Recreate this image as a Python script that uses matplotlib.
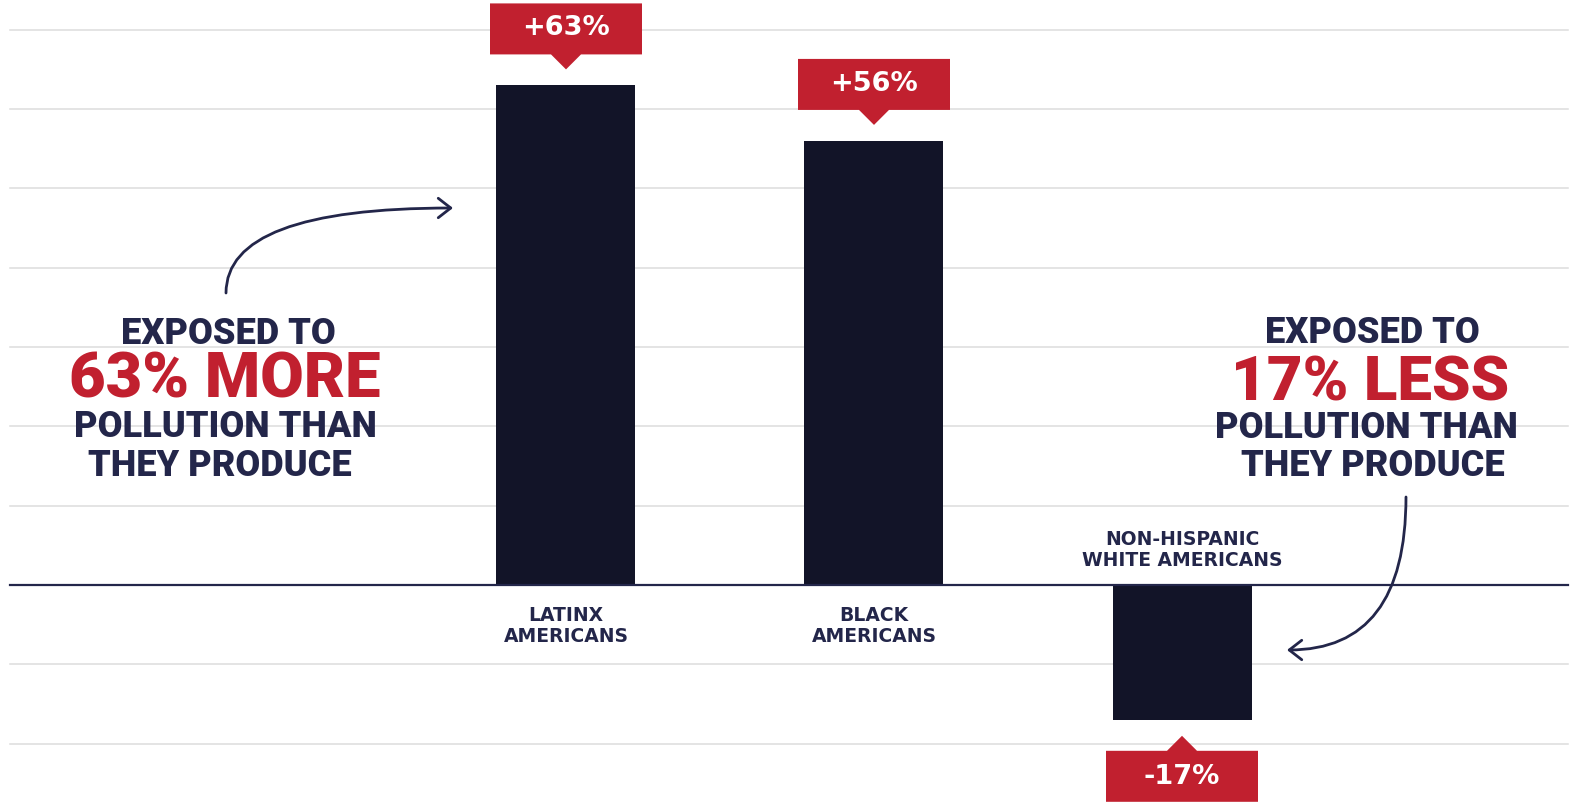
import matplotlib
matplotlib.use('Agg')
import matplotlib.pyplot as plt
from matplotlib.patches import Polygon, FancyArrowPatch
import matplotlib.transforms as mtransforms

categories = ["LATINX\nAMERICANS", "BLACK\nAMERICANS", "NON-HISPANIC\nWHITE AMERICANS"]
values = [63, 56, -17]
value_labels = ["+63%", "+56%", "-17%"]
grid_values = [-20, -10, 10, 20, 30, 40, 50, 60, 70]

NAVY = '#23264a'
BAR = '#121428'
RED = '#c1202f'
GRID = '#dcdcdc'

W, H = 1574, 805
ZERO, PX10, X0, DX = 585, 79.3, 566, 308
fig = plt.figure(figsize=(W / 100, H / 100), dpi=100)
ax = fig.add_axes([0, 0, 1, 1])
ax.set_xlim(-X0 / DX, (W - X0) / DX)
ax.set_ylim(-(H - ZERO) / PX10 * 10, ZERO / PX10 * 10)
ax.axis('off')

x0, x1 = 10 / W, 1568 / W
for g in grid_values:
    ax.axhline(g, xmin=x0, xmax=x1, color=GRID, lw=1.1, zorder=0)
ax.axhline(0, xmin=x0, xmax=x1, color=NAVY, lw=1.6, zorder=3)

xs = list(range(len(values)))
ax.bar(xs, values, width=139 / DX, color=BAR, zorder=2)

for i, (v, lab, cat) in enumerate(zip(values, value_labels, categories)):
    s = 1 if v > 0 else -1
    off = mtransforms.ScaledTranslation(i, v, ax.transData)
    tr = mtransforms.IdentityTransform() + off
    b0, b1, tip = 31 * s, 82 * s, 16 * s
    verts = [(-76, b0), (-15, b0), (0, tip), (15, b0), (76, b0), (76, b1), (-76, b1)]
    p = Polygon(verts, closed=True, facecolor=RED, edgecolor='none', zorder=4)
    p.set_transform(tr)
    ax.add_patch(p)
    ax.annotate(lab, xy=(i, v), xytext=(0, 57 * s), textcoords='offset pixels',
                ha='center', va='center', color='white', fontsize=19.5,
                fontweight='bold', family='DejaVu Sans', zorder=5)
    ax.annotate(cat, xy=(i, 0), xytext=(0, -41 if v > 0 else 35),
                textcoords='offset pixels', ha='center', va='center',
                color=NAVY, fontsize=13.5, fontweight='bold', family='DejaVu Sans',
                linespacing=1.15, zorder=5)


def ftext(x, y, s, color, size):
    fig.text(x / W, 1 - y / H, s, ha='center', va='baseline', color=color,
             fontsize=size, fontweight='heavy', family=['Roboto', 'DejaVu Sans'])


ftext(228, 344, "EXPOSED TO", NAVY, 26)
ftext(225, 397, "63% MORE", RED, 45.5)
ftext(225, 437, "POLLUTION THAN", NAVY, 26)
ftext(220, 476, "THEY PRODUCE", NAVY, 26)

ftext(1372, 343, "EXPOSED TO", NAVY, 26)
ftext(1370, 400, "17% LESS", RED, 44.5)
ftext(1366, 438, "POLLUTION THAN", NAVY, 26)
ftext(1373, 476, "THEY PRODUCE", NAVY, 26)

arr_kw = dict(arrowstyle="->,head_length=0.45,head_width=0.35", mutation_scale=20,
              color=NAVY, lw=2.0, shrinkA=0, shrinkB=0, transform=fig.transFigure)
a1 = FancyArrowPatch((226 / W, 1 - 293 / H), (453 / W, 1 - 208 / H),
                     connectionstyle="angle3,angleA=90,angleB=0", **arr_kw)
a2 = FancyArrowPatch((1406 / W, 1 - 497 / H), (1287 / W, 1 - 650 / H),
                     connectionstyle="angle3,angleA=90,angleB=0", **arr_kw)
fig.add_artist(a1)
fig.add_artist(a2)

fig.savefig('out.png', dpi=100, facecolor='white')
